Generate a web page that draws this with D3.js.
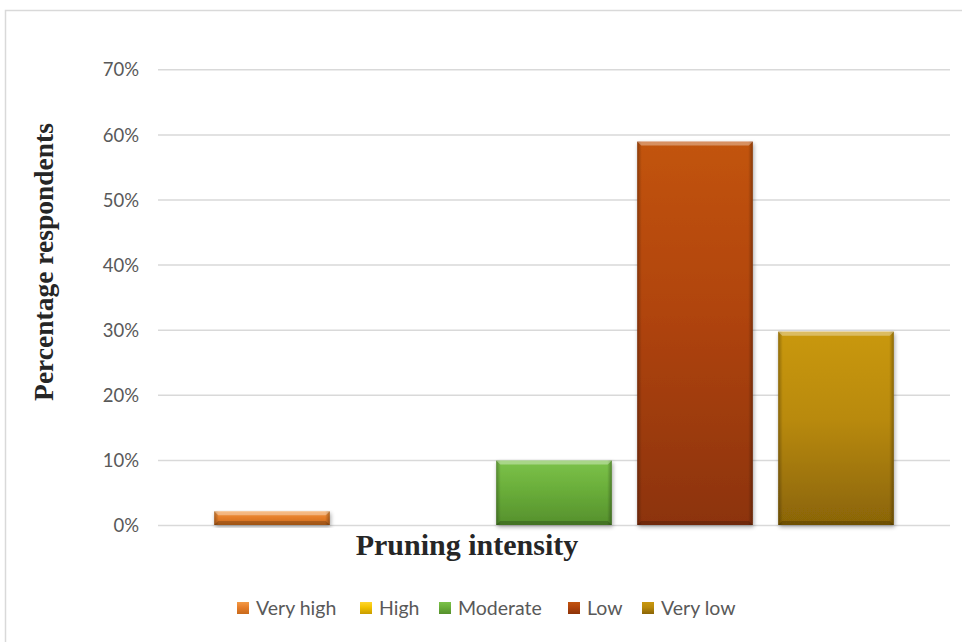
<!DOCTYPE html>
<html>
<head>
<meta charset="utf-8">
<script src="https://cdn.jsdelivr.net/npm/d3@7"></script>
<style>
  html, body { margin: 0; padding: 0; background: #fff; }
  svg { display: block; }
</style>
</head>
<body>
<svg id="chart" width="962" height="642"></svg>
<script>
// Share of respondents by pruning intensity
const series = ["Very high", "High", "Moderate", "Low", "Very low"];
const values = [0.021, 0, 0.099, 0.589, 0.297];
const yTicks = [0, 0.1, 0.2, 0.3, 0.4, 0.5, 0.6, 0.7];
// base, light (top), dark (bottom) shades per series
const baseColors  = ["#e67e2a", "#f2c200", "#6aae3a", "#b0440c", "#b98a0c"];
const lightColors = ["#f39a46", "#ffd62e", "#7cc24a", "#c25410", "#c99810"];
const darkColors  = ["#c86a1c", "#c89c00", "#55902c", "#8c3308", "#8a6406"];

const svg = d3.select("#chart");

// chart frame
svg.append("rect")
  .attr("x", 5.5).attr("y", 10.5)
  .attr("width", 1000).attr("height", 700)
  .attr("fill", "#fff").attr("stroke", "#d9d9d9").attr("stroke-width", 1.5);

const plot = { left: 158, right: 950, top: 69.3, bottom: 525 };

const y = d3.scaleLinear().domain([0, 0.7]).range([plot.bottom, plot.top]);
const groupPad = (plot.right - plot.left - 705) / 2;
const x = d3.scaleBand()
  .domain(series)
  .range([plot.left + groupPad, plot.right - groupPad])
  .paddingInner(0.18).paddingOuter(0.09);

const defs = svg.append("defs");
series.forEach((s, i) => {
  const g = defs.append("linearGradient").attr("id", "body" + i)
    .attr("x1", 0).attr("y1", 0).attr("x2", 0).attr("y2", 1);
  g.append("stop").attr("offset", "0%").attr("stop-color", lightColors[i]);
  g.append("stop").attr("offset", "45%").attr("stop-color", baseColors[i]);
  g.append("stop").attr("offset", "100%").attr("stop-color", darkColors[i]);
});
const side = defs.append("linearGradient").attr("id", "sideShade")
  .attr("x1", 0).attr("y1", 0).attr("x2", 1).attr("y2", 0);
[[0, 0.28], [0.04, 0.0], [0.96, 0.0], [1, 0.3]].forEach(([o, a]) =>
  side.append("stop").attr("offset", o).attr("stop-color", "#000").attr("stop-opacity", a));
const shadow = defs.append("filter").attr("id", "shadow")
  .attr("x", "-10%").attr("y", "-10%").attr("width", "120%").attr("height", "130%");
shadow.append("feGaussianBlur").attr("in", "SourceAlpha").attr("stdDeviation", 2.2);
shadow.append("feOffset").attr("dx", 1).attr("dy", 1.5).attr("result", "b");
shadow.append("feComponentTransfer").append("feFuncA").attr("type", "linear").attr("slope", 0.35);
const mrg = shadow.append("feMerge");
mrg.append("feMergeNode");
mrg.append("feMergeNode").attr("in", "SourceGraphic");

// gridlines
svg.append("g")
  .attr("transform", `translate(${plot.left},0)`)
  .call(d3.axisLeft(y).tickValues(yTicks).tickSize(-(plot.right - plot.left)).tickFormat(""))
  .call(g => g.select(".domain").remove())
  .call(g => g.selectAll(".tick line").attr("stroke", "#d9d9d9").attr("stroke-width", 1.5));

// y tick labels
svg.append("g")
  .attr("transform", `translate(${plot.left - 16},0)`)
  .call(d3.axisLeft(y).tickValues(yTicks).tickSize(0).tickFormat(d3.format(".0%")))
  .call(g => g.select(".domain").remove())
  .call(g => g.selectAll("text")
    .attr("fill", "#595959").attr("font-family", "Lato, 'Open Sans', sans-serif")
    .attr("font-size", 18.5).attr("dx", 0).attr("dy", "0.36em"));

// bars
const bev = 4;
const bars = svg.append("g").selectAll("g")
  .data(series.map((s, i) => ({ s, v: values[i], i })).filter(d => d.v > 0))
  .join("g");
bars.append("rect")
  .attr("x", d => x(d.s)).attr("y", d => y(d.v))
  .attr("width", x.bandwidth()).attr("height", d => y(0) - y(d.v))
  .attr("fill", d => `url(#body${d.i})`)
  .attr("filter", "url(#shadow)");
bars.append("rect")
  .attr("x", d => x(d.s)).attr("y", d => y(d.v))
  .attr("width", x.bandwidth()).attr("height", d => y(0) - y(d.v))
  .attr("fill", "url(#sideShade)");
// top bevel
bars.append("path")
  .attr("d", d => {
    const x0 = x(d.s), x1 = x0 + x.bandwidth(), t = y(d.v);
    const b = Math.min(bev, (y(0) - t) / 2);
    return `M${x0},${t}L${x1},${t}L${x1 - b},${t + b}L${x0 + b},${t + b}Z`;
  })
  .attr("fill", "#fff").attr("fill-opacity", 0.35);
// bottom bevel
bars.append("path")
  .attr("d", d => {
    const x0 = x(d.s), x1 = x0 + x.bandwidth(), bt = y(0);
    const b = Math.min(bev, (bt - y(d.v)) / 2);
    return `M${x0},${bt}L${x1},${bt}L${x1 - b},${bt - b}L${x0 + b},${bt - b}Z`;
  })
  .attr("fill", "#000").attr("fill-opacity", 0.2);

// axis titles
svg.append("text")
  .attr("x", 467).attr("y", 555)
  .attr("text-anchor", "middle")
  .attr("font-family", "'Liberation Serif', 'Times New Roman', serif")
  .attr("font-weight", "bold").attr("font-size", 30).attr("fill", "#262626")
  .text("Pruning intensity");
svg.append("text")
  .attr("transform", `translate(53,262) rotate(-90)`)
  .attr("text-anchor", "middle")
  .attr("font-family", "'Liberation Serif', 'Times New Roman', serif")
  .attr("font-weight", "bold").attr("font-size", 27.5).attr("fill", "#262626")
  .text("Percentage respondents");

// legend
const legendX = [237, 360, 439, 568, 642];
const legend = svg.append("g").selectAll("g")
  .data(series.map((s, i) => ({ s, i })))
  .join("g")
  .attr("transform", d => `translate(${legendX[d.i]},602)`);
legend.append("rect")
  .attr("width", 12).attr("height", 12)
  .attr("fill", d => `url(#body${d.i})`);
legend.append("rect")
  .attr("width", 12).attr("height", 12)
  .attr("fill", "url(#sideShade)");
legend.append("text")
  .attr("x", 19).attr("y", 6).attr("dy", "0.36em")
  .attr("font-family", "Lato, 'Open Sans', sans-serif")
  .attr("font-size", 19.5).attr("fill", "#595959")
  .text(d => d.s);
</script>
</body>
</html>
